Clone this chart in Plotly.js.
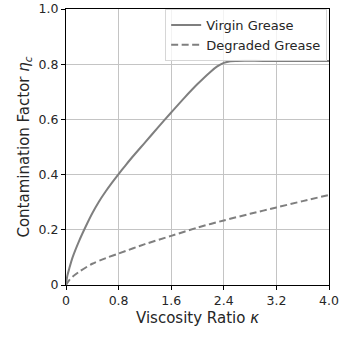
<!DOCTYPE html>
<html>
<head>
<meta charset="utf-8">
<script src="https://cdn.plot.ly/plotly-3.0.1.min.js"></script>
<style>
  html, body { margin: 0; padding: 0; background: #fff; }
  #chart { width: 339px; height: 339px; }
</style>
</head>
<body>
<div id="chart"></div>
<script>
// Viscosity ratio kappa and contamination factor eta_c for each grease condition
const virginKappa = [0, 0.02, 0.05, 0.1, 0.2, 0.3, 0.4, 0.5, 0.6, 0.7, 0.8, 0.9, 1.0, 1.2, 1.4, 1.6, 1.8, 2.0, 2.2, 2.3, 2.4, 2.5, 2.6, 3.0, 3.5, 4.0];
const virginEta   = [0, 0.033, 0.06, 0.10, 0.16, 0.212, 0.26, 0.302, 0.338, 0.371, 0.402, 0.432, 0.461, 0.516, 0.571, 0.625, 0.678, 0.728, 0.773, 0.792, 0.805, 0.811, 0.812, 0.812, 0.812, 0.812];

const degradedKappa = [0, 0.05, 0.1, 0.2, 0.4, 0.6, 0.8, 1.2, 1.6, 2.0, 2.4, 2.8, 3.2, 3.6, 4.0];
const degradedEta   = [0, 0.018, 0.03, 0.048, 0.077, 0.097, 0.114, 0.148, 0.178, 0.208, 0.234, 0.258, 0.281, 0.304, 0.326];

const xTicks = [0, 0.8, 1.6, 2.4, 3.2, 4.0];
const xTickText = ['0', '0.8', '1.6', '2.4', '3.2', '4.0'];
const yTicks = [0, 0.2, 0.4, 0.6, 0.8, 1.0];
const yTickText = ['0', '0.2', '0.4', '0.6', '0.8', '1.0'];

const lineColor = '#7f7f7f';
const textColor = '#262626';
const font = 'DejaVu Sans, sans-serif';

const traces = [
  {
    x: virginKappa, y: virginEta, name: 'Virgin Grease',
    type: 'scatter', mode: 'lines', line: { color: lineColor, width: 2, shape: 'spline', smoothing: 0.8 }
  },
  {
    x: degradedKappa, y: degradedEta, name: 'Degraded Grease',
    type: 'scatter', mode: 'lines', line: { color: lineColor, width: 2, dash: '7px,3.5px', shape: 'spline', smoothing: 0.8 }
  }
];

const axisCommon = {
  showline: true, mirror: true, linecolor: '#000', linewidth: 1,
  ticks: 'outside', ticklen: 4, tickcolor: '#000', tickwidth: 1,
  showgrid: true, gridcolor: '#c4c4c4', gridwidth: 1,
  zeroline: false, tickfont: { family: font, size: 12.5, color: textColor }
};

const layout = {
  width: 339, height: 339,
  margin: { l: 66, r: 10, t: 9, b: 54 },
  paper_bgcolor: '#fff', plot_bgcolor: '#fff',
  font: { family: font, color: textColor },
  showlegend: true,
  legend: {
    x: 0.993, xanchor: 'right', y: 1.0, yanchor: 'top',
    bgcolor: 'rgba(255,255,255,0.8)', bordercolor: '#d6d6d6', borderwidth: 1,
    font: { family: font, size: 13, color: textColor },
    tracegroupgap: 0
  },
  xaxis: Object.assign({}, axisCommon, {
    range: [0, 4], tickvals: xTicks, ticktext: xTickText,
    title: { text: 'Viscosity Ratio <i>κ</i>', font: { family: font, size: 15, color: textColor }, standoff: 5 }
  }),
  yaxis: Object.assign({}, axisCommon, {
    range: [0, 1], tickvals: yTicks, ticktext: yTickText,
    title: { text: 'Contamination Factor <i>η<sub>c</sub></i>', font: { family: font, size: 15, color: textColor }, standoff: 5 }
  })
};

Plotly.newPlot('chart', traces, layout, { displayModeBar: false, staticPlot: true });
</script>
</body>
</html>
